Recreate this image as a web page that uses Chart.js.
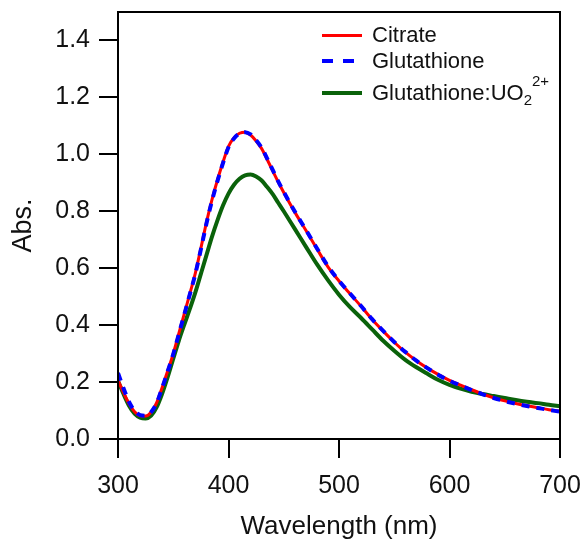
<!DOCTYPE html>
<html>
<head>
<meta charset="utf-8">
<script src="https://cdn.jsdelivr.net/npm/chart.js@4.4.1/dist/chart.umd.min.js"></script>
<style>
    html, body { margin: 0; padding: 0; background: #fff; }
    #wrap { position: relative; width: 587px; height: 544px; }
    #legend { position: absolute; left: 0; top: 0; font-family: "Liberation Sans", Arial, sans-serif; font-size: 22px; color: #111; }
    .row { position: absolute; left: 322px; height: 30px; display: flex; align-items: center; white-space: nowrap; }
    .swatch { width: 40px; margin-right: 10px; }
    .row sub, .row sup { font-size: 15px; line-height: 0; }
    .row sup { position: relative; top: -6px; }
</style>
</head>
<body>
<div id="wrap">
    <canvas id="absChart" width="587" height="544"></canvas>
    <div id="legend"></div>
</div>
<script>
// wavelength (nm)
const wavelengths = [300, 305, 310, 315, 320, 325, 330, 335, 340, 345, 350, 355, 360, 365, 370, 375,
    380, 385, 390, 395, 400, 405, 410, 415, 420, 425, 430, 435, 440, 445, 450,
    460, 470, 480, 490, 500, 510, 520, 530, 540, 550, 560, 570, 580, 590, 600,
    610, 620, 630, 640, 650, 660, 670, 680, 690, 700];

const citrate = [0.207, 0.163, 0.124, 0.096, 0.082, 0.081, 0.094, 0.128, 0.182, 0.240, 0.300, 0.370, 0.440, 0.510, 0.583, 0.670,
    0.760, 0.840, 0.910, 0.972, 1.028, 1.058, 1.074, 1.078, 1.068, 1.047, 1.020, 0.982, 0.942, 0.903, 0.866,
    0.797, 0.733, 0.668, 0.605, 0.555, 0.510, 0.466, 0.420, 0.379, 0.340, 0.305, 0.275, 0.249, 0.226, 0.206,
    0.189, 0.173, 0.158, 0.145, 0.134, 0.125, 0.117, 0.110, 0.103, 0.097];

const glutathione = [0.232, 0.178, 0.130, 0.099, 0.084, 0.082, 0.095, 0.127, 0.180, 0.238, 0.298, 0.368, 0.438, 0.508, 0.580, 0.666,
    0.756, 0.836, 0.906, 0.969, 1.025, 1.056, 1.073, 1.078, 1.070, 1.050, 1.023, 0.985, 0.945, 0.905, 0.868,
    0.799, 0.735, 0.670, 0.607, 0.556, 0.511, 0.467, 0.421, 0.380, 0.341, 0.306, 0.275, 0.249, 0.225, 0.205,
    0.188, 0.172, 0.157, 0.144, 0.133, 0.124, 0.116, 0.109, 0.102, 0.096];

const glutathioneUO2 = [0.205, 0.158, 0.117, 0.089, 0.075, 0.072, 0.082, 0.112, 0.160, 0.218, 0.282, 0.345, 0.402, 0.457, 0.515, 0.580,
    0.645, 0.710, 0.768, 0.820, 0.862, 0.893, 0.914, 0.926, 0.929, 0.922, 0.908, 0.885, 0.860, 0.830, 0.800,
    0.738, 0.676, 0.614, 0.558, 0.507, 0.463, 0.425, 0.385, 0.345, 0.310, 0.278, 0.252, 0.229, 0.207, 0.190,
    0.177, 0.166, 0.158, 0.151, 0.144, 0.137, 0.131, 0.126, 0.120, 0.115];

const seriesNames = ["Citrate", "Glutathione", "Glutathione:UO₂²⁺"];
const yTicks = [0, 0.2, 0.4, 0.6, 0.8, 1.0, 1.2, 1.4];
const xTicks = [300, 400, 500, 600, 700];

const toPoints = vals => vals.map((v, i) => ({ x: wavelengths[i], y: v }));

const FONT = "'Liberation Sans', Arial, sans-serif";

// box around the plot area (top + right sides)
const frame = {
    id: 'frame',
    afterDraw(chart) {
        const { ctx, chartArea: a } = chart;
        ctx.save();
        ctx.strokeStyle = '#000';
        ctx.lineWidth = 2;
        ctx.strokeRect(a.left, a.top, a.right - a.left, a.bottom - a.top);
        ctx.restore();
    }
};

// html legend so the UO2 2+ label gets a proper sub/superscript
const htmlLegend = {
    id: 'htmlLegend',
    afterUpdate(chart) {
        const box = document.getElementById('legend');
        const rowY = [35, 61, 93];
        box.innerHTML = '';
        chart.data.datasets.forEach((ds, i) => {
            const row = document.createElement('div');
            row.className = 'row';
            row.style.top = (rowY[i] - 15) + 'px';
            const sw = document.createElement('div');
            sw.className = 'swatch';
            sw.style.height = ds.borderWidth + 'px';
            if (ds.borderDash) {
                sw.style.background = 'repeating-linear-gradient(90deg, ' + ds.borderColor + ' 0 11px, transparent 11px 21px)';
            } else {
                sw.style.background = ds.borderColor;
            }
            const txt = document.createElement('span');
            txt.innerHTML = ds.label.replace('₂²⁺', '<sub>2</sub><sup>2+</sup>');
            row.appendChild(sw);
            row.appendChild(txt);
            box.appendChild(row);
        });
    }
};

const noPad = s => { s.paddingTop = 0; s.paddingBottom = 0; s.paddingLeft = 0; s.paddingRight = 0; };

new Chart(document.getElementById('absChart'), {
    type: 'line',
    data: {
        datasets: [
            {
                label: seriesNames[0],
                data: toPoints(citrate),
                borderColor: '#ff0000',
                borderWidth: 3,
                order: 1
            },
            {
                label: seriesNames[1],
                data: toPoints(glutathione),
                borderColor: '#0000ff',
                borderWidth: 4,
                borderDash: [8, 7],
                order: 0
            },
            {
                label: seriesNames[2],
                data: toPoints(glutathioneUO2),
                borderColor: '#0a620a',
                borderWidth: 4,
                order: 2
            }
        ]
    },
    options: {
        responsive: false,
        animation: false,
        elements: {
            point: { radius: 0 },
            line: { cubicInterpolationMode: 'monotone', fill: false }
        },
        layout: { padding: { top: 12, right: 27, left: 0, bottom: 0 } },
        plugins: {
            legend: { display: false },
            tooltip: { enabled: false }
        },
        scales: {
            x: {
                type: 'linear',
                min: 300,
                max: 700,
                afterBuildTicks: s => { s.ticks = xTicks.map(v => ({ value: v })); },
                afterFit: s => { s.height = 105; noPad(s); },
                ticks: { color: '#111', font: { family: FONT, size: 25 }, padding: 13, maxRotation: 0 },
                grid: { drawOnChartArea: false, drawTicks: true, tickLength: 19, color: '#000', lineWidth: 2 },
                border: { color: '#000', width: 2 },
                title: { display: true, text: 'Wavelength (nm)', color: '#111', font: { family: FONT, size: 26 }, padding: { top: 4, bottom: 2 } }
            },
            y: {
                min: 0,
                max: 1.5,
                afterBuildTicks: s => { s.ticks = yTicks.map(v => ({ value: v })); },
                afterFit: s => { s.width = 118; noPad(s); },
                ticks: { color: '#111', font: { family: FONT, size: 25 }, padding: 9, callback: v => v.toFixed(1) },
                grid: { drawOnChartArea: false, drawTicks: true, tickLength: 19, color: '#000', lineWidth: 2 },
                border: { color: '#000', width: 2 },
                title: { display: true, text: 'Abs.', color: '#111', font: { family: FONT, size: 27 }, padding: { top: 7, bottom: 4 } }
            }
        }
    },
    plugins: [frame, htmlLegend]
});
</script>
</body>
</html>
